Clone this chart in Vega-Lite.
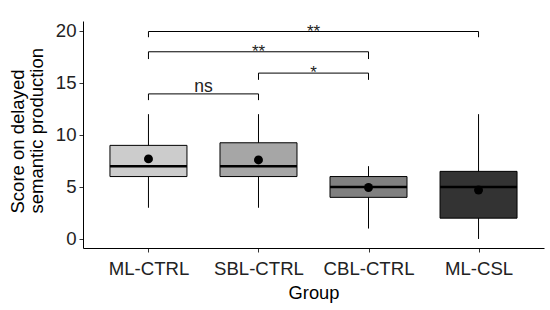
{
  "$schema": "https://vega.github.io/schema/vega-lite/v6.json",
  "width": 461,
  "height": 227,
  "autosize": {"type": "none"},
  "padding": {"left": 83, "top": 21, "right": 6, "bottom": 62},
  "background": "white",
  "config": {"view": {"stroke": null}, "font": "Liberation Sans"},
  "datasets": {
    "boxes": [
      {"group": "ML-CTRL", "min": 3, "q1": 6, "median": 7, "q3": 9, "max": 12, "mean": 7.7},
      {"group": "SBL-CTRL", "min": 3, "q1": 6, "median": 7, "q3": 9.25, "max": 12, "mean": 7.6},
      {"group": "CBL-CTRL", "min": 1, "q1": 4, "median": 5, "q3": 6, "max": 7, "mean": 4.95},
      {"group": "ML-CSL", "min": 0, "q1": 2, "median": 5, "q3": 6.5, "max": 12, "mean": 4.7}
    ],
    "brackets": [
      {"from": "ML-CTRL", "to": "ML-CSL", "mid": "SBL-CTRL|CBL-CTRL", "y": 19.95, "tip": 19.4, "label": "**"},
      {"from": "ML-CTRL", "to": "CBL-CTRL", "mid": "SBL-CTRL", "y": 18.0, "tip": 17.3, "label": "**"},
      {"from": "SBL-CTRL", "to": "CBL-CTRL", "mid": "SBL-CTRL|CBL-CTRL", "y": 15.95, "tip": 15.3, "label": "*"},
      {"from": "ML-CTRL", "to": "SBL-CTRL", "mid": "ML-CTRL|SBL-CTRL", "y": 13.95, "tip": 13.35, "label": "ns"}
    ]
  },
  "layer": [
    {
      "data": {"name": "boxes"},
      "mark": {"type": "rule", "color": "black", "strokeWidth": 1},
      "encoding": {
        "x": {
          "field": "group",
          "type": "nominal",
          "scale": {
            "type": "point",
            "domain": ["_start", "ML-CTRL", "ML-CTRL|SBL-CTRL", "SBL-CTRL", "SBL-CTRL|CBL-CTRL", "CBL-CTRL", "CBL-CTRL|ML-CSL", "ML-CSL", "_end"],
            "padding": 0.19
          },
          "axis": {
            "values": ["ML-CTRL", "SBL-CTRL", "CBL-CTRL", "ML-CSL"],
            "title": "Group",
            "labelAngle": 0,
            "labelFontSize": 18.6,
            "labelColor": "#222222",
            "labelPadding": 7,
            "tickSize": 4,
            "tickColor": "#333333",
            "domainColor": "black",
            "titleFontSize": 18.3,
            "titleFontWeight": "normal",
            "titleColor": "black",
            "titleBaseline": "alphabetic",
            "titleY": 50,
            "grid": false
          }
        },
        "y": {
          "field": "min",
          "type": "quantitative",
          "scale": {"domain": [-0.87, 20.96], "nice": false, "zero": false},
          "axis": {
            "values": [0, 5, 10, 15, 20],
            "title": ["Score on delayed", "\u00a0\u00a0\u00a0\u00a0\u00a0\u00a0semantic production"],
            "labelFontSize": 18.6,
            "labelColor": "#222222",
            "labelPadding": 3,
            "tickSize": 4,
            "tickColor": "#333333",
            "domainColor": "black",
            "grid": false,
            "titleFontSize": 18.5,
            "titleFontWeight": "normal",
            "titleColor": "black",
            "titleAngle": 270,
            "titleAlign": "left",
            "titleBaseline": "top",
            "titleLineHeight": 19,
            "titleX": -75,
            "titleY": 192
          }
        },
        "y2": {"field": "max"}
      }
    },
    {
      "data": {"name": "boxes"},
      "mark": {"type": "bar", "width": 77, "stroke": "black", "strokeWidth": 1},
      "encoding": {
        "x": {"field": "group", "type": "nominal"},
        "y": {"field": "q1", "type": "quantitative"},
        "y2": {"field": "q3"},
        "fill": {
          "field": "group",
          "type": "nominal",
          "scale": {"domain": ["ML-CTRL", "SBL-CTRL", "CBL-CTRL", "ML-CSL"], "range": ["#CCCCCC", "#A6A6A6", "#808080", "#333333"]},
          "legend": null
        }
      }
    },
    {
      "data": {"name": "boxes"},
      "mark": {"type": "tick", "size": 77, "thickness": 2.5, "color": "black", "opacity": 1},
      "encoding": {
        "x": {"field": "group", "type": "nominal"},
        "y": {"field": "median", "type": "quantitative"}
      }
    },
    {
      "data": {"name": "boxes"},
      "mark": {"type": "point", "filled": true, "shape": "circle", "size": 80, "color": "black", "opacity": 1},
      "encoding": {
        "x": {"field": "group", "type": "nominal"},
        "y": {"field": "mean", "type": "quantitative"}
      }
    },
    {
      "data": {"name": "brackets"},
      "mark": {"type": "rule", "color": "black", "strokeWidth": 1},
      "encoding": {
        "x": {"field": "from", "type": "nominal"},
        "x2": {"field": "to"},
        "y": {"field": "y", "type": "quantitative"}
      }
    },
    {
      "data": {"name": "brackets"},
      "mark": {"type": "rule", "color": "black", "strokeWidth": 1},
      "encoding": {
        "x": {"field": "from", "type": "nominal"},
        "y": {"field": "y", "type": "quantitative"},
        "y2": {"field": "tip"}
      }
    },
    {
      "data": {"name": "brackets"},
      "mark": {"type": "rule", "color": "black", "strokeWidth": 1},
      "encoding": {
        "x": {"field": "to", "type": "nominal"},
        "y": {"field": "y", "type": "quantitative"},
        "y2": {"field": "tip"}
      }
    },
    {
      "data": {"name": "brackets"},
      "transform": [{"filter": "datum.label != 'ns'"}],
      "mark": {"type": "text", "fontSize": 17, "baseline": "alphabetic", "dy": 5, "color": "#222222"},
      "encoding": {
        "x": {"field": "mid", "type": "nominal"},
        "y": {"field": "y", "type": "quantitative"},
        "text": {"field": "label"}
      }
    },
    {
      "data": {"name": "brackets"},
      "transform": [{"filter": "datum.label == 'ns'"}],
      "mark": {"type": "text", "fontSize": 17.5, "baseline": "alphabetic", "dy": -1.5, "color": "#222222"},
      "encoding": {
        "x": {"field": "mid", "type": "nominal"},
        "y": {"field": "y", "type": "quantitative"},
        "text": {"field": "label"}
      }
    }
  ]
}
